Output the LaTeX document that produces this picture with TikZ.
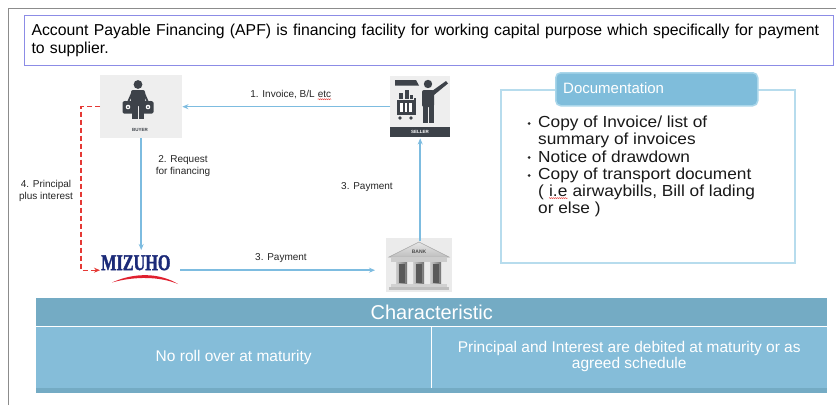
\documentclass[tikz,border=0pt]{standalone}
\usepackage{fontspec}
\setmainfont{Liberation Sans}
\newfontfamily\widefont[FakeStretch=1.08]{Liberation Sans}
\newfontfamily\mizfont[FakeStretch=0.72,FakeBold=1.5]{Liberation Serif}
\usetikzlibrary{arrows.meta,decorations.pathmorphing}
\definecolor{flow}{HTML}{7DBCE0}
\definecolor{purpline}{HTML}{8C8CE6}
\definecolor{docline}{HTML}{B7DCED}
\definecolor{tabfill}{HTML}{7FBDDB}
\definecolor{tabline}{HTML}{A9D6EA}
\definecolor{hdrfill}{HTML}{74ABC4}
\definecolor{bodyfill}{HTML}{85BDD9}
\definecolor{icongray}{HTML}{3D4249}
\definecolor{iconbg}{HTML}{EEEEEE}
\definecolor{mizblue}{HTML}{1B2A78}
\definecolor{mizred}{HTML}{E0202E}
\definecolor{redline}{HTML}{E53935}
\newcommand\sqg[1]{\tikz[baseline=(t.base)]{\node[inner sep=0pt](t){#1};\draw[redline,line width=0.4pt,decorate,decoration={snake,amplitude=0.5pt,segment length=2pt}]([yshift=-1.6pt]t.south west)--([yshift=-1.6pt]t.south east);}}
\begin{document}
\begin{tikzpicture}[x=1pt,y=-1pt,
  flowarrow/.style={draw=flow,line width=1.5pt,-{Stealth[length=6pt,width=5pt]}},
  redarrow/.style={draw=redline,line width=1.3pt,dashed,dash pattern=on 5pt off 3pt,-{Stealth[length=6pt,width=5pt]}},
  lbl/.style={font=\fontsize{10}{11.5}\selectfont,text=black!85,align=center,inner sep=1pt},
  bullettext/.style={anchor=west,inner sep=0pt,font=\widefont\fontsize{16}{16}\selectfont,text=black!90},
  cell/.style={inner sep=0pt,text=white,align=center}]
\useasboundingbox (0,0) rectangle (836,405);
\fill[white] (0,0) rectangle (836,405);
% frame
\draw[black!45,line width=1pt] (8,405) -- (8,8) -- (836,8);
% intro box
\node[draw=purpline,line width=1pt,anchor=north west,minimum height=50pt,text width=795pt,inner xsep=7pt,align=left,
  font=\fontsize{15.8}{18}\selectfont] (intro) at (24,15)
  {Account Payable Financing (APF) is financing facility for working capital purpose which specifically for payment\\to supplier.};
% ---- buyer
\node[fill=iconbg,anchor=north west,minimum width=82pt,minimum height=63pt,inner sep=0pt] (buyer) at (100,75) {};
\begin{scope}[fill=icongray]
\fill (138,84.5) circle (4.4);
\fill[rounded corners=2pt] (131,90) rectangle (145,106);
\fill (132,104) rectangle (137.6,119);
\fill (138.6,104) rectangle (144,119);
\fill (131.5,92) -- (127.5,101) -- (129.5,101) -- (133,94) -- cycle;
\fill (144.5,92) -- (148.5,101) -- (146.5,101) -- (143,94) -- cycle;
\fill[rounded corners=1.5pt] (122.5,101) rectangle (133.5,113.5);
\fill[rounded corners=1.5pt] (142.5,101) rectangle (153.5,113.5);
\draw[icongray,line width=1pt] (125,101) arc (180:0:3);
\draw[icongray,line width=1pt] (145,101) arc (180:0:3);
\end{scope}
\fill[white] (128,107) circle (2.3);
\fill[white] (148,107) circle (2.3);
\fill[icongray] (128,107) circle (1);
\fill[icongray] (148,107) circle (1);
\node[font=\bfseries\fontsize{4.5}{5}\selectfont,text=icongray,inner sep=0pt] (buyerlbl) at (140,130) {BUYER};
% ---- seller
\node[fill=iconbg,anchor=north west,minimum width=60pt,minimum height=61pt,inner sep=0pt] (seller) at (390,76) {};
\fill[icongray] (395,80) -- (416,80) -- (419,85.5) -- (395,85.5) -- cycle;
\fill[icongray] (397,100) rectangle (414,115);
\fill[white] (400,103) rectangle (402.5,112);
\fill[white] (404.5,103) rectangle (407,112);
\fill[white] (409,103) rectangle (411.5,112);
\fill[icongray] (399,93) rectangle (403,99);
\fill[icongray] (405,90) rectangle (409,99);
\fill[icongray] (410,95) rectangle (413,99);
\fill[icongray] (400,118) circle (1.8);
\fill[icongray] (411,118) circle (1.8);
\fill[icongray] (414,98) rectangle (416,115);
\fill[icongray] (428,84) circle (4.2);
\fill[icongray,rounded corners=2pt] (422,90) rectangle (434,107);
\fill[icongray] (422.5,105) rectangle (427.6,123);
\fill[icongray] (428.6,105) rectangle (433.5,123);
\fill[icongray] (432,91) -- (446,81) -- (448,83.5) -- (434,95) -- cycle;
\fill[icongray] (390,127) rectangle (450,137);
\node[font=\bfseries\fontsize{4.5}{5}\selectfont,text=white,inner sep=0pt] (sellerlbl) at (420,132) {SELLER};
% ---- bank
\node[anchor=north west,minimum width=62pt,minimum height=49pt,inner sep=0pt] (bank) at (388,241) {};
\fill[black!8] (386,238) rectangle (452,292);
\shade[top color=black!10,bottom color=black!25,draw=black!35,line width=0.5pt] (389,257) -- (419,242) -- (449,257) -- cycle;
\node[font=\bfseries\fontsize{5}{5}\selectfont\rmfamily,text=black!70,inner sep=0pt] (banklbl) at (419,252) {BANK};
\fill[black!20] (391,257) rectangle (447,261.5);
\shade[left color=black!20,right color=black!55] (396,262) rectangle (407,284);
\shade[left color=black!20,right color=black!55] (413,262) rectangle (424,284);
\shade[left color=black!20,right color=black!55] (430,262) rectangle (441,284);
\fill[black!65] (399,264) rectangle (405,283);
\fill[black!65] (416,264) rectangle (422,283);
\fill[black!65] (433,264) rectangle (439,283);
\fill[black!18] (391,284) rectangle (447,287);
\fill[black!25] (389,287) rectangle (449,290);
% ---- mizuho
\node[anchor=north west,minimum width=78pt,minimum height=28pt,inner sep=0pt] (mizuho) at (100,256) {};
\node[anchor=north west,inner sep=0pt,text=mizblue,font=\mizfont\bfseries\fontsize{22.5}{22}\selectfont] (miztext) at (101,255) {MIZUHO};
\fill[mizred] (112,282.5) .. controls (135,272) and (160,273) .. (178,284) .. controls (160,276.5) and (135,276) .. (112,282.5) -- cycle;
% ---- connectors
\draw[flowarrow] (seller.west) -- (buyer.east);
\draw[flowarrow] (buyer.south) -- ([yshift=6pt]buyer.south |- mizuho.north);
\draw[flowarrow,shorten <=2pt,shorten >=13pt] (mizuho.east) -- (mizuho.east -| bank.west);
\draw[flowarrow,shorten >=1pt] (bank.north -| seller.south) -- (seller.south);
\draw[redarrow] (buyer.west) -- ++(-19,0) |- (mizuho.west);
% labels
\node[lbl] (l1) at (291,95) {1. Invoice, B/L \sqg{etc}};
\node[lbl] (l2) at (183,166) {2. Request\\for financing};
\node[lbl] (l4) at (46,191) {4. Principal\\plus interest};
\node[lbl] (l3a) at (367,187) {3. Payment};
\node[lbl] (l3b) at (281,258) {3. Payment};
% ---- documentation
\draw[docline,line width=1.5pt] (556,90) -- (501,90) -- (501,263) -- (795,263) -- (795,90) -- (756,90);
\node[fill=tabfill,draw=tabline,line width=1.5pt,rounded corners=5pt,anchor=north west,minimum width=202pt,minimum height=33pt,inner sep=0pt] (doctab) at (555,72) {};
\node[anchor=west,inner sep=0pt,text=white,font=\fontsize{15}{15}\selectfont] (doctitle) at (563,88) {Documentation};
\foreach \yy/\tx/\b in {123/Copy of Invoice\slash\ list of/1,140/summary of invoices/0,157/Notice of drawdown/1,175/Copy of transport document/1,192/{( \sqg{i.e} airwaybills, Bill of lading}/0,209/or else )/0}{
  \node[bullettext] at (538,\yy) {\tx};
  \ifnum\b=1 \fill[black!85] (529,\yy+0.5) circle (1.5);\fi
}
% ---- characteristic table
\node[fill=hdrfill,anchor=north west,minimum width=791pt,minimum height=28pt,inner sep=0pt] (charhead) at (36,298) {};
\node[cell,font=\fontsize{20}{20}\selectfont] (chartitle) at (charhead.center) {Characteristic};
\node[fill=bodyfill,anchor=north west,minimum width=395pt,minimum height=62pt,inner sep=0pt] (cellL) at (36,326) {};
\node[fill=bodyfill,anchor=north west,minimum width=396pt,minimum height=62pt,inner sep=0pt] (cellR) at (431,326) {};
\fill[hdrfill] (36,388) rectangle (827,393);
\draw[white,line width=1pt] (36,326) -- (827,326);
\draw[white,line width=1pt] (431,326) -- (431,388);
\node[cell,font=\fontsize{15.5}{15.5}\selectfont] (txtL) at ([yshift=0pt]cellL.center) {No roll over at maturity};
\node[cell,font=\fontsize{15.5}{16}\selectfont] (txtR) at ([yshift=1pt]cellR.center) {Principal and Interest are debited at maturity or as\\agreed schedule};
\end{tikzpicture}
\end{document}
